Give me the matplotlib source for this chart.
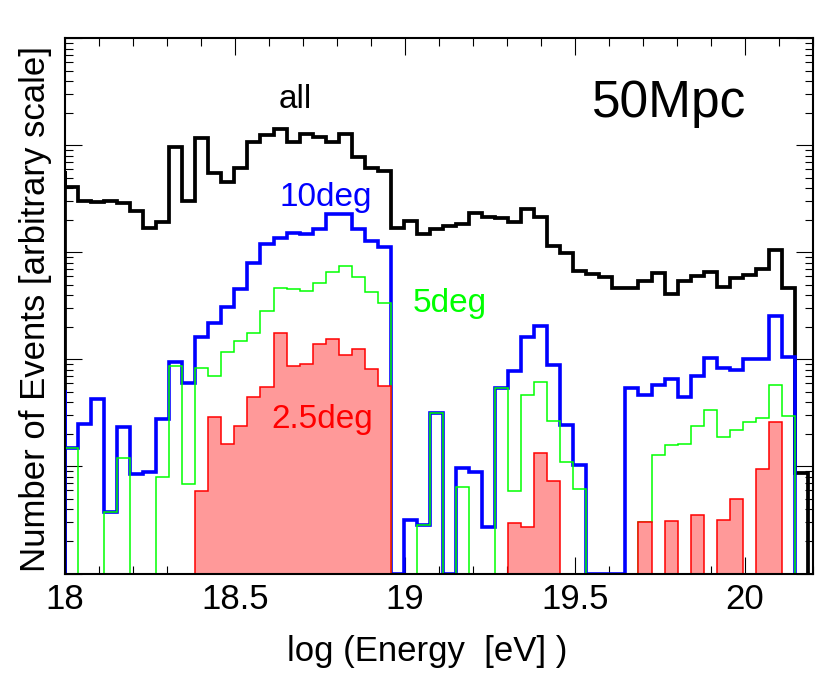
import numpy as np
import matplotlib
matplotlib.use("Agg")
import matplotlib.pyplot as plt
from matplotlib.ticker import FixedLocator, MultipleLocator, LogLocator, NullFormatter

plt.rcParams['font.family'] = ['Liberation Sans', 'DejaVu Sans']

# ---- binning: 60 bins over log10(E) = 18 .. 20.3 (axis shown to 20.2)
n_bins = 60
bin_range = (18.0, 20.3)
bin_edges = np.linspace(bin_range[0], bin_range[1], n_bins + 1)

# ---- data: log10(number of events) per bin, None = empty bin
all_log = [3.612, 3.484, 3.472, 3.484, 3.460, 3.391, 3.226, 3.288, 3.983, 3.484,
           4.067, 3.740, 3.659, 3.787, 4.030, 4.092, 4.148, 4.035, 4.102, 4.082,
           4.035, 4.106, 3.893, 3.790, 3.760, 3.232, 3.294, 3.175, 3.215, 3.248,
           3.263, 3.372, 3.329, 3.319, 3.288, 3.407, 3.335, 3.063, 2.990, 2.830,
           2.795, 2.768, 2.671, 2.671, 2.734, 2.806, 2.612, 2.734, 2.783, 2.821,
           2.680, 2.759, 2.790, 2.843, 3.026, 2.668, 0.936]
all_left_log = 3.764

deg10_log = [1.170, 1.393, 1.626, 0.578, 1.372, 0.930, 0.951, 1.441, 1.975, 1.783,
             2.207, 2.338, 2.488, 2.656, 2.899, 3.079, 3.133, 3.179, 3.173, 3.217,
             3.360, 3.360, 3.217, 3.110, 3.049, None, 0.500, 0.453, 1.503, None,
             0.983, 0.951, 0.437, 1.731, 1.895, 2.213, 2.313, 1.949, 1.388, 1.014,
             None, None, None, 1.736, 1.668, 1.762, 1.815, 1.652, 1.846, 2.011,
             1.918, 1.902, 2.005, 2.000, 2.407, 2.026]
deg10_left_log = 1.715

deg5_log = [1.170, None, None, 0.578, 1.075, None, None, 0.905, 1.939, 0.836,
            1.918, 1.846, 2.073, 2.176, 2.250, 2.453, 2.665, 2.656, 2.640, 2.712,
            2.821, 2.874, 2.768, 2.634, 2.531, None, None, 0.453, 1.503, None,
            0.811, None, None, 1.731, 0.774, 1.668, 1.793, 1.425, 1.039, 0.790,
            None, None, None, None, 0.478, 1.107, 1.201, 1.207, 1.381, 1.528,
            1.273, 1.341, 1.413, 1.456, 1.759, 1.472]

deg25_log = [None, None, None, None, None, None, None, None, None, None,
             0.774, 1.466, 1.207, 1.379, 1.647, 1.746, 2.245, 1.939, 1.958, 2.142,
             2.192, 2.042, 2.095, 1.908, 1.755, None, None, None, None, None,
             None, None, None, None, 0.475, 0.432, 1.123, 0.864, None, None,
             None, None, None, None, 0.478, None, 0.491, None, 0.548, None,
             0.500, 0.693, None, 0.977, 1.419]

x_ticks = [18, 18.5, 19, 19.5, 20]
x_tick_labels = ["18", "18.5", "19", "19.5", "20"]


def counts(logs):
    return np.array([0.0 if v is None else 10.0 ** v for v in logs])


all_counts = counts(all_log)
deg10_counts = counts(deg10_log)
deg5_counts = counts(deg5_log)
deg25_counts = counts(deg25_log)

Y_MIN, Y_MAX = 1.0, 1e5
FLOOR = Y_MIN


def step_xy(vals, lead=None):
    v = np.where(vals > 0, vals, FLOOR)
    n = len(v)
    e = bin_edges[:n + 1]
    xs = [e[0]]
    ys = [FLOOR]
    if lead is not None:
        xs.append(e[0])
        ys.append(lead)
    xs += list(np.repeat(e, 2)[1:-1])
    ys += list(np.repeat(v, 2))
    xs.append(e[-1])
    ys.append(FLOOR)
    return xs, ys


fig = plt.figure(figsize=(8.3, 6.8), dpi=100)
ax = fig.add_axes([65 / 830, 1 - 573.5 / 680, 748 / 830, 535.2 / 680])
ax.set_xlim(18, 20.2)
ax.set_yscale('log')
ax.set_ylim(Y_MIN, Y_MAX)

line_kw = dict(solid_joinstyle='miter', solid_capstyle='butt')

xs, ys = step_xy(all_counts, lead=10 ** all_left_log)
ax.plot(xs, ys, color='black', lw=2.7, zorder=2, **line_kw)

xs, ys = step_xy(deg10_counts, lead=10 ** deg10_left_log)
ax.plot(xs, ys, color='#0000ff', lw=2.6, zorder=3, **line_kw)

xs, ys = step_xy(deg5_counts)
ax.plot(xs, ys, color='#00ff00', lw=1.1, zorder=4, **line_kw)

red_vals = np.where(deg25_counts > 0, deg25_counts, FLOOR)
ax.stairs(red_vals, bin_edges[:len(red_vals) + 1], baseline=FLOOR, fill=True,
          color='#ff9999', lw=0, zorder=5)
xs, ys = step_xy(deg25_counts)
ax.plot(xs, ys, color='#ff0000', lw=1.1, zorder=6, **line_kw)

# annotations
ax.text(18.676, 10 ** 4.348, "all", color='black', fontsize=24, ha='center', va='baseline')
ax.text(19.776, 10 ** 4.269, "50Mpc", color='black', fontsize=37, ha='center', va='baseline')
ax.text(18.768, 10 ** 3.435, "10deg", color='#0000ff', fontsize=24, ha='center', va='baseline')
ax.text(19.132, 10 ** 2.447, "5deg", color='#00ff00', fontsize=24, ha='center', va='baseline')
ax.text(18.756, 10 ** 1.357, "2.5deg", color='#ff0000', fontsize=24, ha='center', va='baseline', zorder=7)

# axes styling (ROOT-like)
ax.xaxis.set_major_locator(FixedLocator(x_ticks))
ax.set_xticklabels(x_tick_labels)
ax.xaxis.set_minor_locator(MultipleLocator(0.1))
ax.yaxis.set_major_locator(LogLocator(base=10, numticks=10))
ax.yaxis.set_minor_locator(LogLocator(base=10, subs=np.arange(2, 10), numticks=10))
ax.yaxis.set_major_formatter(NullFormatter())
ax.yaxis.set_minor_formatter(NullFormatter())
ax.tick_params(which='both', direction='in', top=True, right=True, color='black', width=0.8)
ax.tick_params(which='major', length=12.5, pad=7, labelsize=25)
ax.tick_params(which='minor', length=6)
for s in ax.spines.values():
    s.set_linewidth(1.5)
    s.set_zorder(10)

ax.set_xlabel("log (Energy  [eV] )", fontsize=25)
ax.xaxis.label.set_va('baseline')
ax.xaxis.set_label_coords(0.4846, -0.1635)
ax.set_ylabel("Number of Events [arbitrary scale]", fontsize=25)
ax.yaxis.set_label_coords(-0.017, 0.494)

fig.savefig("out.png", dpi=100, facecolor='white')
